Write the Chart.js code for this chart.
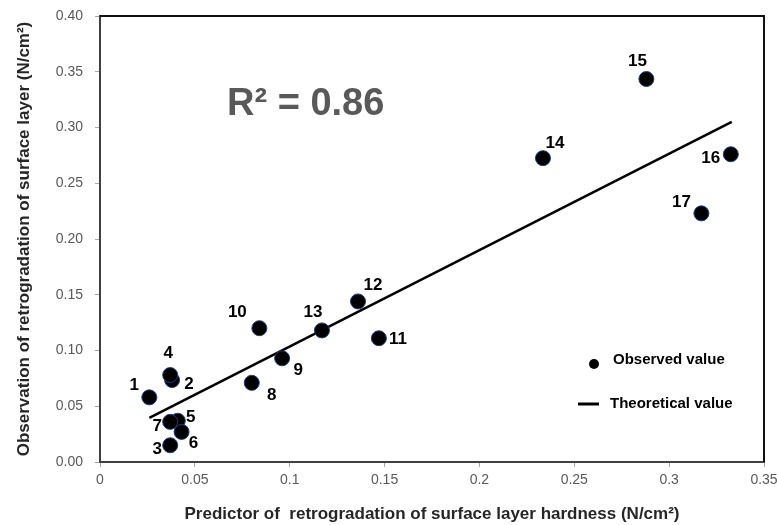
<!DOCTYPE html>
<html>
<head>
<meta charset="utf-8">
<script src="https://cdn.jsdelivr.net/npm/chart.js@4"></script>
<style>
  html, body { margin: 0; padding: 0; background: #fff; }
  #wrap { width: 777px; height: 525px; }
</style>
</head>
<body>
<div id="wrap"><canvas id="chart"></canvas></div>
<script>
// === Data ===
const pointIds = ["1", "2", "3", "4", "5", "6", "7", "8", "9", "10", "11", "12", "13", "14", "15", "16", "17"];
const predicted = [0.026, 0.038, 0.037, 0.037, 0.041, 0.043, 0.037, 0.080, 0.096, 0.084, 0.147, 0.136, 0.117, 0.2335, 0.288, 0.3325, 0.317];
const observed = [0.058, 0.0735, 0.015, 0.078, 0.037, 0.027, 0.036, 0.071, 0.093, 0.120, 0.111, 0.144, 0.118, 0.2725, 0.3435, 0.276, 0.223];
const fitX = [0.026, 0.333];
const fitY = [0.0395, 0.305];
const rSquared = "0.86";
const xTicks = [0, 0.05, 0.1, 0.15, 0.2, 0.25, 0.3, 0.35];
const yTicks = [0, 0.05, 0.1, 0.15, 0.2, 0.25, 0.3, 0.35, 0.4];

const FONT = "'Liberation Sans', Arial, sans-serif";

// label offset from each point centre (px)
const LABEL_OFF = {
  "1": [-15, -12], "2": [17, 4], "3": [-13, 4], "4": [-2, -22], "5": [13, -3],
  "6": [12, 11], "7": [-13, 4], "8": [20, 12], "9": [16, 12], "10": [-22, -16],
  "11": [19, 1], "12": [15, -16], "13": [-9, -18], "14": [12, -15], "15": [-9, -18],
  "16": [-20, 4], "17": [-20, -11],
};

const extras = {
  id: "extras",
  afterDatasetsDraw(chart) {
    const { ctx, chartArea: a } = chart;
    ctx.save();
    // top / right frame
    ctx.strokeStyle = "#111";
    ctx.lineWidth = 2;
    ctx.beginPath();
    ctx.moveTo(a.left, a.top);
    ctx.lineTo(a.right, a.top);
    ctx.lineTo(a.right, a.bottom);
    ctx.stroke();

    // point labels
    ctx.fillStyle = "#000";
    ctx.font = "bold 17px " + FONT;
    ctx.textAlign = "center";
    ctx.textBaseline = "middle";
    const meta = chart.getDatasetMeta(0);
    meta.data.forEach((pt, i) => {
      const id = pointIds[i];
      const off = LABEL_OFF[id] || [12, -12];
      ctx.fillText(id, pt.x + off[0], pt.y + off[1]);
    });

    // R² annotation
    ctx.fillStyle = "#595959";
    ctx.font = "bold 38px " + FONT;
    ctx.textAlign = "left";
    ctx.fillText("R² = " + rSquared, 227, 105);

    // legend
    ctx.fillStyle = "#000";
    ctx.beginPath();
    ctx.arc(594, 364, 5, 0, Math.PI * 2);
    ctx.fill();
    ctx.strokeStyle = "#000";
    ctx.lineWidth = 3;
    ctx.beginPath();
    ctx.moveTo(578, 404);
    ctx.lineTo(599, 404);
    ctx.stroke();
    ctx.font = "bold 15px " + FONT;
    ctx.fillText(chart.data.datasets[0].label, 613, 360);
    ctx.fillText(chart.data.datasets[1].label, 610, 404);
    ctx.restore();
  },
};

new Chart(document.getElementById("chart"), {
  type: "scatter",
  data: {
    datasets: [
      {
        label: "Observed value",
        data: predicted.map((x, i) => ({ x, y: observed[i] })),
        backgroundColor: "#000",
        borderColor: "#1f3d7a",
        borderWidth: 1,
        pointRadius: 7.5,
        pointHoverRadius: 7.5,
        order: 0,
      },
      {
        label: "Theoretical value",
        type: "line",
        data: fitX.map((x, i) => ({ x, y: fitY[i] })),
        borderColor: "#000",
        borderWidth: 2.5,
        pointRadius: 0,
        fill: false,
        order: 1,
      },
    ],
  },
  options: {
    responsive: true,
    maintainAspectRatio: false,
    animation: false,
    layout: { padding: { top: 16, right: 13, left: 0, bottom: 0 } },
    plugins: { legend: { display: false }, tooltip: { enabled: false } },
    scales: {
      x: {
        type: "linear",
        min: 0,
        max: 0.35,
        afterBuildTicks: (s) => { s.ticks = xTicks.map((v) => ({ value: v })); },
        afterFit: (s) => { s.height = 63; s.paddingLeft = 0; s.paddingRight = 0; },
        grid: { drawOnChartArea: false, drawTicks: true, tickLength: 5, color: "#a6a6a6" },
        border: { color: "#404040", width: 2 },
        ticks: {
          color: "#595959",
          padding: 5,
          maxRotation: 0,
          font: { family: FONT, size: 14 },
          callback: (v) => String(Math.round(v * 100) / 100),
        },
        title: {
          display: true,
          text: "Predictor of  retrogradation of surface layer hardness (N/cm²)",
          color: "#262626",
          font: { family: FONT, size: 17, weight: "bold" },
          padding: { top: 6, bottom: 0 },
        },
      },
      y: {
        min: 0,
        max: 0.4,
        afterBuildTicks: (s) => { s.ticks = yTicks.map((v) => ({ value: v })); },
        afterFit: (s) => { s.width = 100; s.paddingTop = 0; s.paddingBottom = 0; },
        grid: { drawOnChartArea: false, drawTicks: true, tickLength: 5, color: "#a6a6a6" },
        border: { color: "#404040", width: 2 },
        ticks: {
          color: "#595959",
          padding: 12,
          font: { family: FONT, size: 14 },
          callback: (v) => v.toFixed(2),
        },
        title: {
          display: true,
          text: "Observation of retrogradation of surface layer (N/cm²)",
          color: "#262626",
          font: { family: FONT, size: 17, weight: "bold" },
          padding: { top: 14, bottom: 0 },
        },
      },
    },
  },
  plugins: [extras],
});
</script>
</body>
</html>
